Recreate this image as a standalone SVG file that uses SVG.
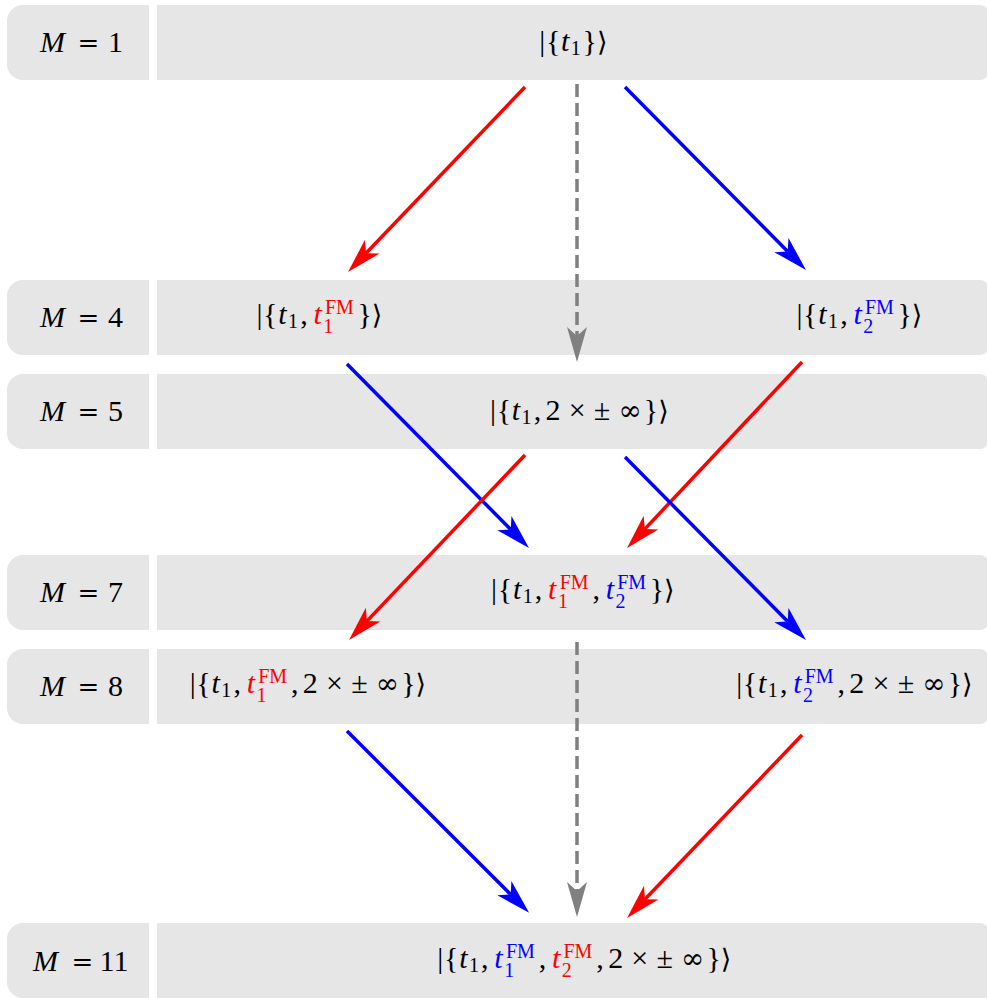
<svg xmlns="http://www.w3.org/2000/svg" width="987" height="998" viewBox="0 0 987 998">
<style>
.bg{fill:#e6e6e6}
text{font-family:"Liberation Serif","DejaVu Serif",serif;font-size:30px;text-anchor:middle;fill:#000}
.i{font-style:italic}
.s{font-size:20px}
.ra{font-family:"DejaVu Serif","DejaVu Sans",serif;font-size:27px}
.eq{font-family:"DejaVu Serif",serif;font-size:26px}
.inf{font-family:"DejaVu Serif",serif;font-size:28px}
.r{fill:#ff0000}
.b{fill:#0000ff}
.cr{stroke:#ff0000}
.cb{stroke:#0000ff}
.cg{stroke:#808080;stroke-dasharray:13 6}
.c{fill:none;stroke-width:3.5}
</style>
<defs>
<marker id="hr" markerUnits="userSpaceOnUse" viewBox="-1 -12 38 24" markerWidth="38" markerHeight="24" refX="9" refY="0" orient="auto"><path d="M0,-10 L35,0 L0,10 L9,0 Z" fill="#ff0000"/></marker>
<marker id="hb" markerUnits="userSpaceOnUse" viewBox="-1 -12 38 24" markerWidth="38" markerHeight="24" refX="9" refY="0" orient="auto"><path d="M0,-10 L35,0 L0,10 L9,0 Z" fill="#0000ff"/></marker>
<marker id="hg" markerUnits="userSpaceOnUse" viewBox="-1 -12 38 24" markerWidth="38" markerHeight="24" refX="9" refY="0" orient="auto"><path d="M0,-10 L35,0 L0,10 L9,0 Z" fill="#808080"/></marker>
</defs>

<g id="row1">
<path class="bg" d="M23,5 H149 V80 H23 A16,16 0 0 1 7,64 V21 A16,16 0 0 1 23,5 Z"/>
<path class="bg" d="M157,5 H980 A8,8 0 0 1 988,13 V72 A8,8 0 0 1 980,80 H157 Z"/>
<text y="52"><tspan class="i" x="52.5">M</tspan><tspan class="eq" x="88.5">=</tspan><tspan x="115.5">1</tspan></text>
<text y="51"><tspan x="542.2">|</tspan><tspan x="553.1">{</tspan><tspan class="i" x="565.15">t</tspan><tspan class="s" x="575.8" y="55">1</tspan><tspan x="589.8" y="51">}</tspan><tspan class="ra" x="602.25">⟩</tspan></text>
</g>

<g id="row4">
<path class="bg" d="M23,280 H149 V355 H23 A16,16 0 0 1 7,339 V296 A16,16 0 0 1 23,280 Z"/>
<path class="bg" d="M157,280 H980 A8,8 0 0 1 988,288 V347 A8,8 0 0 1 980,355 H157 Z"/>
<text y="327"><tspan class="i" x="52.5">M</tspan><tspan class="eq" x="88.5">=</tspan><tspan x="115.5">4</tspan></text>
<text y="324"><tspan x="259.4">|</tspan><tspan x="270.3">{</tspan><tspan class="i" x="282.35">t</tspan><tspan class="s" x="293" y="328">1</tspan><tspan x="303.9" y="324">,</tspan><tspan class="i r" x="317.55">t</tspan><tspan class="s r" x="339.4" y="314">FM</tspan><tspan class="s r" x="328.2" y="333">1</tspan><tspan x="364.6" y="324">}</tspan><tspan class="ra" x="377.05">⟩</tspan></text>
<text y="324"><tspan x="799.4">|</tspan><tspan x="810.3">{</tspan><tspan class="i" x="822.35">t</tspan><tspan class="s" x="833" y="328">1</tspan><tspan x="843.9" y="324">,</tspan><tspan class="i b" x="857.55">t</tspan><tspan class="s b" x="879.4" y="314">FM</tspan><tspan class="s b" x="868.2" y="333">2</tspan><tspan x="904.6" y="324">}</tspan><tspan class="ra" x="917.05">⟩</tspan></text>
</g>

<g id="row5">
<path class="bg" d="M23,374 H149 V449 H23 A16,16 0 0 1 7,433 V390 A16,16 0 0 1 23,374 Z"/>
<path class="bg" d="M157,374 H980 A8,8 0 0 1 988,382 V441 A8,8 0 0 1 980,449 H157 Z"/>
<text y="421"><tspan class="i" x="52.5">M</tspan><tspan class="eq" x="88.5">=</tspan><tspan x="115.5">5</tspan></text>
<text y="420"><tspan x="492.95">|</tspan><tspan x="503.85">{</tspan><tspan class="i" x="515.9">t</tspan><tspan class="s" x="526.55" y="424">1</tspan><tspan x="537.45" y="420">,</tspan><tspan x="553.05">2</tspan><tspan x="577.15">×</tspan><tspan x="602">±</tspan><tspan class="inf" x="630.05">∞</tspan><tspan x="651.05">}</tspan><tspan class="ra" x="663.5">⟩</tspan></text>
</g>

<g id="row7">
<path class="bg" d="M23,555 H149 V630 H23 A16,16 0 0 1 7,614 V571 A16,16 0 0 1 23,555 Z"/>
<path class="bg" d="M157,555 H980 A8,8 0 0 1 988,563 V622 A8,8 0 0 1 980,630 H157 Z"/>
<text y="602"><tspan class="i" x="52.5">M</tspan><tspan class="eq" x="88.5">=</tspan><tspan x="115.5">7</tspan></text>
<text y="599"><tspan x="494.1">|</tspan><tspan x="505">{</tspan><tspan class="i" x="517.05">t</tspan><tspan class="s" x="527.7" y="603">1</tspan><tspan x="538.6" y="599">,</tspan><tspan class="i r" x="552.25">t</tspan><tspan class="s r" x="574.1" y="589">FM</tspan><tspan class="s r" x="562.9" y="608">1</tspan><tspan x="596.2" y="599">,</tspan><tspan class="i b" x="609.85">t</tspan><tspan class="s b" x="631.7" y="589">FM</tspan><tspan class="s b" x="620.5" y="608">2</tspan><tspan x="656.9" y="599">}</tspan><tspan class="ra" x="669.35">⟩</tspan></text>
</g>

<g id="row8">
<path class="bg" d="M23,649 H149 V724 H23 A16,16 0 0 1 7,708 V665 A16,16 0 0 1 23,649 Z"/>
<path class="bg" d="M157,649 H980 A8,8 0 0 1 988,657 V716 A8,8 0 0 1 980,724 H157 Z"/>
<text y="696"><tspan class="i" x="52.5">M</tspan><tspan class="eq" x="88.5">=</tspan><tspan x="115.5">8</tspan></text>
<text y="693"><tspan x="192.65">|</tspan><tspan x="203.55">{</tspan><tspan class="i" x="215.6">t</tspan><tspan class="s" x="226.25" y="697">1</tspan><tspan x="237.15" y="693">,</tspan><tspan class="i r" x="250.8">t</tspan><tspan class="s r" x="272.65" y="683">FM</tspan><tspan class="s r" x="261.45" y="702">1</tspan><tspan x="294.75" y="693">,</tspan><tspan x="310.35">2</tspan><tspan x="334.45">×</tspan><tspan x="359.45">±</tspan><tspan class="inf" x="387.35">∞</tspan><tspan x="408.35">}</tspan><tspan class="ra" x="420.8">⟩</tspan></text>
<text y="693"><tspan x="739.15">|</tspan><tspan x="750.05">{</tspan><tspan class="i" x="762.1">t</tspan><tspan class="s" x="772.75" y="697">1</tspan><tspan x="783.65" y="693">,</tspan><tspan class="i b" x="797.3">t</tspan><tspan class="s b" x="819.15" y="683">FM</tspan><tspan class="s b" x="807.95" y="702">2</tspan><tspan x="841.25" y="693">,</tspan><tspan x="856.85">2</tspan><tspan x="880.95">×</tspan><tspan x="905.95">±</tspan><tspan class="inf" x="933.85">∞</tspan><tspan x="954.85">}</tspan><tspan class="ra" x="967.3">⟩</tspan></text>
</g>

<g id="row11">
<path class="bg" d="M23,923 H149 V998 H23 A16,16 0 0 1 7,982 V939 A16,16 0 0 1 23,923 Z"/>
<path class="bg" d="M157,923 H980 A8,8 0 0 1 988,931 V998 H157 Z"/>
<text y="971"><tspan class="i" x="45.5">M</tspan><tspan class="eq" x="82.5">=</tspan><tspan x="114">11</tspan></text>
<text y="968"><tspan x="440.35">|</tspan><tspan x="451.25">{</tspan><tspan class="i" x="463.3">t</tspan><tspan class="s" x="473.95" y="972">1</tspan><tspan x="484.85" y="968">,</tspan><tspan class="i b" x="498.5">t</tspan><tspan class="s b" x="520.35" y="958">FM</tspan><tspan class="s b" x="509.15" y="977">1</tspan><tspan x="542.45" y="968">,</tspan><tspan class="i r" x="556.1">t</tspan><tspan class="s r" x="577.95" y="958">FM</tspan><tspan class="s r" x="566.75" y="977">2</tspan><tspan x="600.05" y="968">,</tspan><tspan x="615.65">2</tspan><tspan x="639.75">×</tspan><tspan x="664.65">±</tspan><tspan class="inf" x="692.65">∞</tspan><tspan x="713.65">}</tspan><tspan class="ra" x="726.1">⟩</tspan></text>
</g>

<g id="connectors" class="c">
<line class="c cr" x1="525" y1="87" x2="366" y2="253.2" marker-end="url(#hr)"/>
<line class="c cb" x1="625" y1="87" x2="787.7" y2="251.5" marker-end="url(#hb)"/>
<line class="c cg" x1="577" y1="84" x2="577" y2="336" marker-end="url(#hg)"/>
<line class="c cb" x1="347" y1="364" x2="510.7" y2="529.5" marker-end="url(#hb)"/>
<line class="c cr" x1="802" y1="362" x2="644.8" y2="529.1" marker-end="url(#hr)"/>
<line class="c cr" x1="525" y1="455" x2="366.9" y2="621.1" marker-end="url(#hr)"/>
<line class="c cb" x1="625" y1="457" x2="787.7" y2="621.5" marker-end="url(#hb)"/>
<line class="c cg" x1="577" y1="642" x2="577" y2="891" marker-end="url(#hg)"/>
<line class="c cb" x1="347" y1="731" x2="510.7" y2="894.5" marker-end="url(#hb)"/>
<line class="c cr" x1="802" y1="735" x2="645" y2="899.2" marker-end="url(#hr)"/>
</g>
</svg>
